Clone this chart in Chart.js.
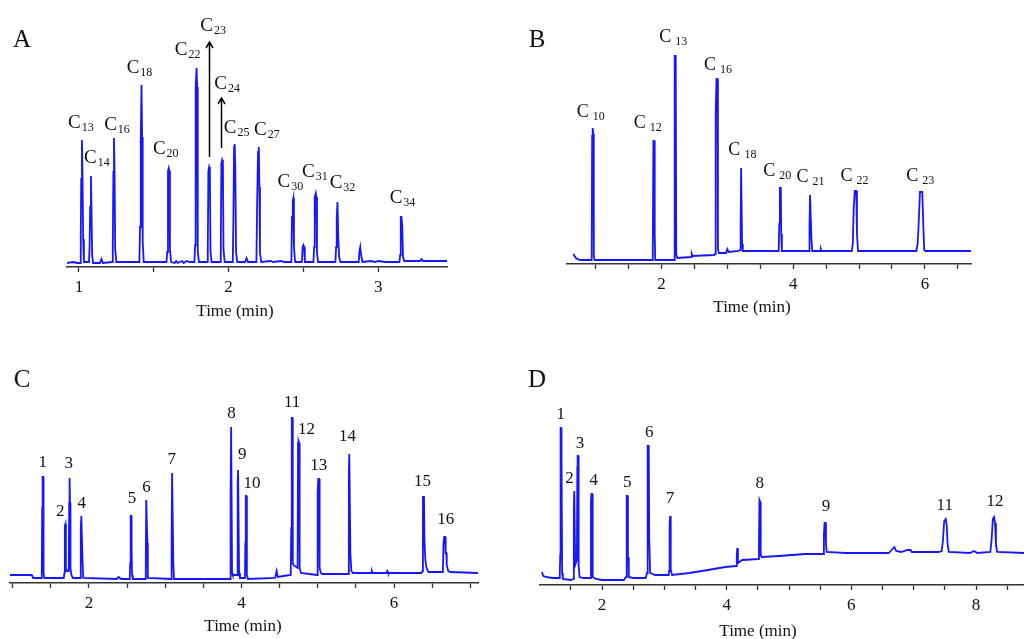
<!DOCTYPE html>
<html><head><meta charset="utf-8">
<script src="https://cdn.jsdelivr.net/npm/chart.js@4/dist/chart.umd.min.js"></script>
<style>
html,body{margin:0;padding:0;background:#fff;width:1024px;height:639px;overflow:hidden;position:relative;}
canvas{position:absolute;}
</style></head><body>
<canvas id="cA" width="512" height="330" style="left:0;top:0"></canvas>
<canvas id="cB" width="512" height="330" style="left:512px;top:0"></canvas>
<canvas id="cC" width="512" height="309" style="left:0;top:330px"></canvas>
<canvas id="cD" width="512" height="309" style="left:512px;top:330px"></canvas>
<script>
// ---------------- DATA ----------------
// Panel A
const peakLabelsA = ['C13','C14','C16','C18','C20','C22','C23','C24','C25','C27','C30','C31','C32','C34'];
const peakTimesA = [1.02,1.08,1.234,1.418,1.60,1.786,1.87,1.957,2.041,2.202,2.433,2.583,2.728,3.156];
const peakHeightsA = [127,91,129,182,99,199,100,107,123,120,69,74,65,50];
const tickValuesA = [1,1.5,2,2.5,3];
const tickLabelsA = [1,2,3];
const traceA = [
[0.92,4],[0.96,5],[0.99,4],
[1.008,4],[1.012,30],[1.015,88],[1.02,127],[1.024,88],[1.028,28],[1.033,5],
[1.067,5],[1.071,20],[1.075,60],[1.08,91],[1.084,55],[1.088,12],[1.094,4],
[1.14,4],[1.15,8],[1.16,4],
[1.222,5],[1.226,20],[1.23,95],[1.234,129],[1.238,95],[1.242,18],[1.25,5],
[1.404,5],[1.408,40],[1.413,130],[1.418,182],[1.422,130],[1.426,25],[1.433,5],
[1.585,5],[1.59,15],[1.595,96],[1.6,99],[1.604,96],[1.608,18],[1.616,5],
[1.64,4],[1.65,6],[1.66,4],[1.69,6],[1.7,4],[1.72,6],[1.74,5],
[1.772,5],[1.776,22],[1.78,180],[1.786,199],[1.79,180],[1.794,16],[1.802,5],
[1.856,5],[1.861,16],[1.865,96],[1.87,100],[1.875,97],[1.879,16],[1.886,5],
[1.943,5],[1.948,18],[1.952,104],[1.957,107],[1.962,104],[1.966,18],[1.974,5],
[2.028,5],[2.032,45],[2.037,120],[2.041,123],[2.045,100],[2.05,15],[2.058,5],
[2.11,5],[2.12,9],[2.13,5],
[2.186,5],[2.191,64],[2.197,115],[2.202,120],[2.206,80],[2.21,15],[2.218,5],
[2.28,6],[2.3,5],[2.35,6],[2.37,5],
[2.42,5],[2.424,50],[2.429,66],[2.433,69],[2.437,20],[2.445,5],
[2.49,5],[2.495,20],[2.5,22],[2.505,20],[2.51,5],
[2.567,5],[2.572,20],[2.576,70],[2.583,74],[2.587,70],[2.591,15],[2.598,5],
[2.714,5],[2.719,20],[2.723,50],[2.728,65],[2.733,30],[2.739,10],[2.748,5],
[2.87,5],[2.874,15],[2.88,20],[2.886,12],[2.895,5],
[2.95,6],[2.98,5],[3.0,6],[3.05,5],
[3.142,5],[3.147,12],[3.151,50],[3.156,50],[3.161,40],[3.166,10],[3.174,6],
[3.28,6],[3.29,8],[3.3,6],
[3.46,6]
];

// Panel B
const peakLabelsB = ['C10','C12','C13','C16','C18','C20','C21','C22','C23'];
const peakTimesB = [0.955,1.884,2.21,2.843,3.213,3.805,4.263,4.947,5.943];
const peakHeightsB = [136,123,208,185,96,76,69,73,72];
const tickValuesB = [1,1.5,2,2.5,3,3.5,4,4.5,5,5.5,6,6.5];
const tickLabelsB = [2,4,6];
const traceB = [
[0.66,10],[0.7,6],[0.76,4],[0.93,4],
[0.94,6],[0.947,128],[0.955,136],[0.965,130],[0.972,8],[0.985,4],
[1.86,4],[1.868,15],[1.877,123],[1.89,123],[1.897,30],[1.905,4],
[2.19,4],[2.197,45],[2.204,208],[2.216,208],[2.224,10],[2.24,6],
[2.45,7],[2.46,10],[2.47,8],
[2.8,9],[2.815,10],[2.823,150],[2.835,185],[2.85,185],[2.857,15],[2.87,11],
[2.98,11],[3.0,15],[3.02,12],
[3.17,13],
[3.195,14],[3.202,35],[3.209,96],[3.217,96],[3.224,20],[3.235,13],
[3.78,13],[3.788,40],[3.798,76],[3.812,76],[3.818,30],[3.828,13],
[4.24,13],[4.248,40],[4.256,69],[4.27,69],[4.277,25],[4.29,13],
[4.41,13],[4.42,15],[4.43,13],
[4.89,13],[4.905,20],[4.918,55],[4.935,73],[4.958,73],[4.968,30],[4.985,13],
[5.87,13],[5.89,20],[5.905,40],[5.925,72],[5.96,72],[5.975,40],[5.99,14],[6.01,13],
[6.70,13]
];

// Panel C
const peakLabelsC = ['1','2','3','4','5','6','7','8','9','10','11','12','13','14','15','16'];
const peakTimesC = [1.395,1.69,1.747,1.904,2.55,2.756,3.097,3.867,3.958,4.06,4.663,4.748,5.011,5.417,6.385,6.663];
const peakHeightsC = [106,59,105,67,67,83,110,156,113,87,165,142,104,129,86,46];
const tickValuesC = [1,1.5,2,2.5,3,3.5,4,4.5,5,5.5,6,6.5,7];
const tickLabelsC = [2,4,6];
const traceC = [
[0.965,8],[1.25,8],[1.27,5],
[1.375,5],[1.382,12],[1.387,75],[1.392,106],[1.399,106],[1.405,10],[1.415,5],
[1.67,5],[1.678,10],[1.684,57],[1.692,59],[1.698,15],[1.71,12],
[1.735,12],[1.741,80],[1.746,105],[1.752,80],[1.758,15],[1.77,8],[1.79,5],
[1.885,5],[1.893,55],[1.9,67],[1.908,67],[1.915,25],[1.925,5],
[2.36,4],[2.39,6],[2.42,4],
[2.535,4],[2.541,20],[2.547,67],[2.553,67],[2.559,35],[2.565,8],[2.575,4],
[2.74,4],[2.745,18],[2.751,83],[2.76,83],[2.766,40],[2.772,5],
[3.078,4],[3.084,45],[3.09,110],[3.1,110],[3.106,20],[3.115,4],
[3.85,4],[3.857,90],[3.864,156],[3.87,156],[3.876,10],[3.885,8],
[3.945,8],[3.95,100],[3.955,113],[3.962,113],[3.968,10],[3.98,5],
[4.045,5],[4.05,40],[4.056,87],[4.063,87],[4.07,8],[4.085,4],
[4.44,5],[4.46,12],[4.475,6],
[4.55,7],
[4.645,8],[4.652,55],[4.659,165],[4.666,165],[4.672,20],[4.68,18],
[4.735,15],[4.741,140],[4.747,142],[4.755,140],[4.762,15],[4.78,10],
[4.99,8],[4.998,90],[5.006,104],[5.016,104],[5.024,15],[5.04,10],[5.06,9],
[5.4,9],[5.407,110],[5.413,129],[5.42,129],[5.427,30],[5.44,12],[5.46,10],
[5.7,10],[5.71,12],[5.72,10],
[5.9,10],[5.91,12],[5.92,10],
[6.36,10],[6.372,12],[6.378,86],[6.392,86],[6.398,43],[6.405,43],[6.41,23],[6.425,15],[6.45,11],
[6.64,11],[6.648,40],[6.657,46],[6.668,46],[6.676,30],[6.684,30],[6.69,18],[6.71,12],[6.74,11],
[7.10,10]
];

// Panel D
const peakLabelsD = ['1','2','3','4','5','6','7','8','9','11','12'];
const peakTimesD = [1.338,1.56,1.613,1.835,2.405,2.743,3.092,4.532,5.578,7.515,8.29];
const peakHeightsD = [157,94,129,91,89,139,69,85,62,66,68];
const tickValuesD = [1.5,2,2.5,3,3.5,4,4.5,5,5.5,6,6.5,7,7.5,8,8.5];
const tickLabelsD = [2,4,6,8];
const traceD = [
[1.035,13],[1.06,9],[1.1,8],[1.2,7],[1.31,7],
[1.322,10],[1.33,30],[1.335,157],[1.342,157],[1.347,128],[1.354,128],[1.36,12],[1.372,6],
[1.5,5],[1.54,6],
[1.548,77],[1.555,94],[1.565,94],[1.57,20],
[1.597,25],[1.604,118],[1.609,129],[1.617,129],[1.622,118],[1.628,20],[1.64,8],[1.7,7],
[1.815,7],[1.823,85],[1.83,91],[1.84,91],[1.846,30],[1.855,8],[1.9,6],
[2.0,5],[2.35,5],
[2.385,8],[2.393,85],[2.4,89],[2.41,89],[2.416,27],[2.425,27],[2.43,8],[2.5,7],
[2.7,7],
[2.722,12],[2.73,48],[2.735,139],[2.75,139],[2.757,48],[2.765,48],[2.772,12],[2.85,10],
[3.07,10],
[3.077,14],[3.085,62],[3.092,69],[3.1,62],[3.105,15],[3.125,10],
[3.4,12],[3.7,15],[3.98,18],[4.15,19],
[4.162,30],[4.17,37],[4.18,22],[4.25,25],[4.51,26],
[4.518,42],[4.526,85],[4.538,83],[4.546,30],[4.56,28],
[4.84,29],[5.26,31],[5.55,31],
[5.56,50],[5.57,62],[5.585,62],[5.593,40],[5.605,33],[5.9,32],
[6.6,32],[6.66,36],[6.69,38],[6.72,34],[6.8,33],[6.9,35],[6.95,35],[6.97,33],[7.4,33],
[7.45,34],[7.47,45],[7.49,64],[7.515,66],[7.53,60],[7.545,40],[7.565,33],
[7.9,32],[7.97,34],[8.02,32],
[8.23,33],[8.25,45],[8.27,66],[8.29,68],[8.305,62],[8.32,40],[8.34,33],
[8.77,32]
];

// ---------------- LAYOUT / STYLE ----------------
const SERIF = '"Liberation Serif", "DejaVu Serif", serif';
const LINE_COLOR = '#1717ff';
const AXIS_COLOR = '#333333';
const TEXT_COLOR = '#111111';

const panels = [
  { id:'cA', letter:'A', trace:traceA, labels:peakLabelsA, times:peakTimesA, heights:peakHeightsA,
    tickValues:tickValuesA, tickLabels:tickLabelsA, xMin:0.92, xMax:3.46, yMax:259,
    padding:{left:67,right:65,top:8,bottom:33}, letterPos:[22,40], titlePos:[235,312],
    sub:true, cSize:19, subSize:12, gap:1, subDrop:3,
    offsets:[[-1,-12],[6,-13],[3,-8],[-2,-12],[-3,-14],[-9,-13],[4,-136],[5,-71],[2,-11],[8,-12],[-3,-11],[-1,-16],[5,-14],[1,-14]],
    arrows:[{idx:6,dx:0,from:-10,to:-125},{idx:7,dx:-1,from:-12,to:-62}] },
  { id:'cB', letter:'B', trace:traceB, labels:peakLabelsB, times:peakTimesB, heights:peakHeightsB,
    tickValues:tickValuesB, tickLabels:tickLabelsB, xMin:0.565, xMax:6.70, yMax:256,
    padding:{left:55,right:53,top:8,bottom:36}, letterPos:[25,40], titlePos:[240,308],
    sub:true, cSize:18, subSize:12, gap:4, subDrop:3,
    offsets:[[-2,-11],[-6,-13],[-2,-14],[1,-9],[1,-13],[-3,-12],[0,-13],[-1,-10],[-1,-11]],
    arrows:[] },
  { id:'cC', letter:'C', trace:traceC, labels:peakLabelsC, times:peakTimesC, heights:peakHeightsC,
    tickValues:tickValuesC, tickLabels:tickLabelsC, xMin:0.965, xMax:7.10, yMax:245,
    padding:{left:10,right:34,top:8,bottom:26}, letterPos:[22,50], titlePos:[243,297],
    sub:false, numSize:17,
    offsets:[[0,-10],[-5,-8],[-1,-10],[0,-8],[1,-13],[0,-8],[-1,-9],[0,-9],[4,-11],[6,-8],[0,-11],[8,-7],[0,-9],[-2,-13],[-1,-11],[1,-13]],
    arrows:[] },
  { id:'cD', letter:'D', trace:traceD, labels:peakLabelsD, times:peakTimesD, heights:peakHeightsD,
    tickValues:tickValuesD, tickLabels:tickLabelsD, xMin:1.005, xMax:8.77, yMax:247,
    padding:{left:28,right:0,top:8,bottom:24}, letterPos:[25,50], titlePos:[246,302],
    sub:false, numSize:17,
    offsets:[[0,-9],[-5,-8],[2,-8],[2,-9],[0,-9],[1,-9],[0,-13],[0,-12],[1,-12],[-1,-9],[1,-11]],
    arrows:[] }
];

function overlayPlugin(p) {
  return {
    id: 'overlay_' + p.letter,
    afterDatasetsDraw(chart) {
      const ctx = chart.ctx, xs = chart.scales.x, ys = chart.scales.y;
      ctx.save();
      ctx.fillStyle = TEXT_COLOR;
      ctx.textAlign = 'center';
      ctx.textBaseline = 'middle';
      ctx.font = '25px ' + SERIF;
      ctx.fillText(p.letter, p.letterPos[0], p.letterPos[1]);
      ctx.font = '17px ' + SERIF;
      ctx.fillText('Time (min)', p.titlePos[0], p.titlePos[1]);
      ctx.textBaseline = 'alphabetic';
      p.labels.forEach((lab, i) => {
        const cx = xs.getPixelForValue(p.times[i]) + p.offsets[i][0];
        const by = ys.getPixelForValue(p.heights[i]) + p.offsets[i][1];
        if (p.sub) {
          const main = lab.charAt(0), sub = lab.slice(1);
          ctx.font = p.cSize + 'px ' + SERIF;
          const wc = ctx.measureText(main).width;
          ctx.font = p.subSize + 'px ' + SERIF;
          const ws = ctx.measureText(sub).width;
          const x0 = cx - (wc + p.gap + ws) / 2;
          ctx.textAlign = 'left';
          ctx.font = p.cSize + 'px ' + SERIF;
          ctx.fillText(main, x0, by);
          ctx.font = p.subSize + 'px ' + SERIF;
          ctx.fillText(sub, x0 + wc + p.gap, by + p.subDrop);
        } else {
          ctx.textAlign = 'center';
          ctx.font = p.numSize + 'px ' + SERIF;
          ctx.fillText(lab, cx, by);
        }
      });
      ctx.strokeStyle = '#000';
      ctx.lineWidth = 1.5;
      p.arrows.forEach(a => {
        const x = Math.round(xs.getPixelForValue(p.times[a.idx])) + a.dx + 0.5;
        const apex = ys.getPixelForValue(p.heights[a.idx]);
        const y1 = apex + a.from, y2 = apex + a.to;
        ctx.beginPath();
        ctx.moveTo(x, y1); ctx.lineTo(x, y2);
        ctx.moveTo(x - 3.5, y2 + 6); ctx.lineTo(x, y2); ctx.lineTo(x + 3.5, y2 + 6);
        ctx.stroke();
      });
      ctx.restore();
    }
  };
}

panels.forEach(p => {
  new Chart(document.getElementById(p.id), {
    type: 'line',
    data: { datasets: [{
      data: p.trace.map(d => ({x: d[0], y: d[1]})),
      borderColor: LINE_COLOR, borderWidth: 1.8, pointRadius: 0, tension: 0, fill: false
    }]},
    options: {
      responsive: false, animation: false, devicePixelRatio: 1, events: [],
      layout: { padding: p.padding },
      plugins: { legend: {display:false}, tooltip: {enabled:false} },
      scales: {
        x: {
          type: 'linear', position: 'bottom', min: p.xMin, max: p.xMax,
          border: { display: true, color: AXIS_COLOR, width: 1.5 },
          grid: { display: true, drawOnChartArea: false, drawTicks: true, tickLength: 5, tickColor: AXIS_COLOR, tickWidth: 1.3 },
          ticks: { autoSkip: false, maxRotation: 0, padding: 5, color: TEXT_COLOR,
            font: { family: SERIF, size: 17 },
            callback: (v) => p.tickLabels.includes(v) ? String(v) : '' },
          afterBuildTicks: (scale) => { scale.ticks = p.tickValues.map(v => ({value: v})); },
          afterFit: (scale) => { scale.height = 30; }
        },
        y: { display: false, min: 0, max: p.yMax }
      }
    },
    plugins: [overlayPlugin(p)]
  });
});
</script>
</body></html>
